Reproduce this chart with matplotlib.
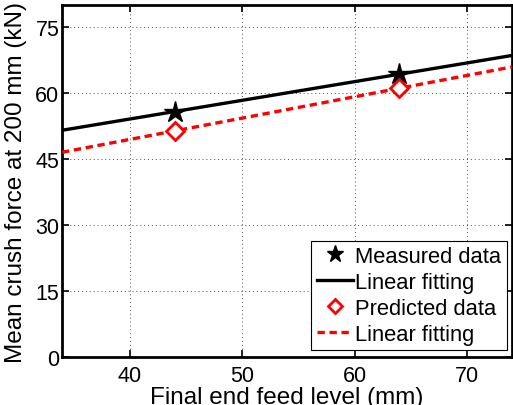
import matplotlib
matplotlib.use("Agg")
import matplotlib.pyplot as plt
import numpy as np

plt.rcParams["font.family"] = ["Liberation Sans", "DejaVu Sans"]

# Final end feed level (mm) and mean crush force at 200 mm (kN)
feed_level = [44, 64]
measured_force = [55.8, 64.3]
predicted_force = [51.4, 61.1]

x_ticks = [40, 50, 60, 70]
y_ticks = [0, 15, 30, 45, 60, 75]
x_range = (34, 74)
y_range = (0, 80)

fig = plt.figure(figsize=(5.13, 4.06), dpi=100)
ax = fig.add_axes([0.121, 0.118, 0.877, 0.867])

xfit = np.linspace(*x_range, 50)
m_fit = np.polyfit(feed_level, measured_force, 1)
p_fit = np.polyfit(feed_level, predicted_force, 1)

ax.plot(feed_level, measured_force, linestyle="none", marker="*", color="k",
        markersize=16, label="Measured data", zorder=4)
ax.plot(xfit, np.polyval(m_fit, xfit), color="k", lw=2.4,
        label="Linear fitting", zorder=3)
ax.plot(feed_level, predicted_force, linestyle="none", marker="D", color="r",
        mfc="white", mec="r", mew=2, markersize=9, label="Predicted data", zorder=4)
ax.plot(xfit, np.polyval(p_fit, xfit), color="r", lw=2.4, ls=(0, (2.2, 1.4)),
        label="Linear fitting", zorder=3)

ax.set_xlim(*x_range)
ax.set_ylim(*y_range)
ax.set_xticks(x_ticks)
ax.set_yticks(y_ticks)
ax.grid(True, color="k", linestyle=(0, (1, 3)), linewidth=0.7, alpha=0.7)
ax.tick_params(direction="in", top=True, right=True, length=5, width=1.2,
               labelsize=15.5)
ax.tick_params(axis="x", pad=6)
ax.tick_params(axis="y", pad=2)
for s in ax.spines.values():
    s.set_linewidth(2)

ax.set_xlabel("Final end feed level (mm)", fontsize=17.5, labelpad=0)
ax.set_ylabel("Mean crush force at 200 mm (kN)", fontsize=17.5, labelpad=6)

leg = ax.legend(loc="lower right", bbox_to_anchor=(0.989, 0.02), borderaxespad=0,
                fontsize=15.8, fancybox=False, framealpha=1, edgecolor="k",
                handlelength=1.65, handletextpad=0.12, labelspacing=0.22,
                borderpad=0.25, markerscale=0.8)
leg.get_frame().set_linewidth(0.8)

fig.savefig("out.png", dpi=100)
